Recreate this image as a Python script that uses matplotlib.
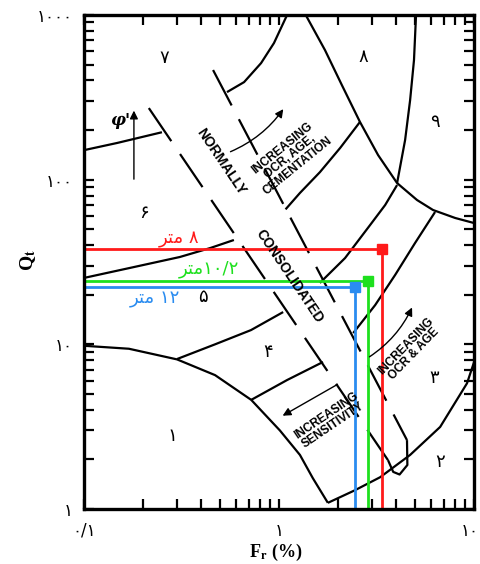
import numpy as np
import matplotlib
matplotlib.use("Agg")
import matplotlib.pyplot as plt
import matplotlib.transforms as mtransforms
from matplotlib.ticker import FixedLocator, NullFormatter

plt.rcParams['font.family'] = ['DejaVu Sans']
plt.rcParams['mathtext.fontset'] = 'stix'

# -----------------------------
# DATA (Fr %, Qt)
# -----------------------------
zone1_fr = [0.10, 0.17, 0.30, 0.47, 0.72, 1.01, 1.28, 1.49, 1.78]
zone1_qt = [9.8, 9.4, 8.1, 6.5, 4.6, 3.0, 2.13, 1.54, 1.09]

zone2_fr = [1.78, 2.45, 3.3, 4.7, 6.7, 9.2, 10.0]
zone2_qt = [1.09, 1.30, 1.56, 2.13, 3.15, 5.8, 7.8]

b34_nc_fr = [0.718, 1.10, 1.68]
b34_nc_qt = [4.59, 6.07, 7.81]

b45_nc_fr = [0.30, 0.47, 0.718, 1.05]
b45_nc_qt = [8.14, 10.0, 12.2, 15.7]

b56_nc_fr = [0.10, 0.172, 0.31, 0.443, 0.587]
b56_nc_qt = [25.3, 29.1, 33.9, 38.4, 43.0]

b67_nc_fr = [0.10, 0.148, 0.251]
b67_nc_qt = [151, 167, 194]

b67_oc_fr = [0.541, 0.662, 0.809, 0.942, 1.10]
b67_oc_qt = [340, 391, 510, 675, 1000]

b56_oc_fr = [1.08, 1.28, 1.62, 2.06, 2.60]
b56_oc_qt = [66, 83, 111, 156, 224]

big_fr = [1.37, 1.72, 2.10, 2.60, 3.22, 4.03, 5.10, 6.16, 8.0, 10.0]
big_qt = [1000, 612, 375, 224, 141, 95.3, 75.2, 65.4, 58.5, 54.5]

zone9_fr = [5.04, 4.92, 4.70, 4.43, 4.03]
zone9_qt = [1000, 532, 304, 174, 95.3]

b45_oc_fr = [1.62, 2.18, 2.93, 3.50, 4.03]
b45_oc_qt = [23.6, 33.4, 53.0, 70.1, 92.7]

b34_oc_fr = [2.40, 3.11, 3.94, 4.98, 6.31]
b34_oc_qt = [11.7, 17.3, 26.4, 41.2, 63.6]

# normally consolidated band (dashed edges) and closing loop
nc_left_fr = [0.215, 3.62]
nc_left_qt = [272, 1.98]
nc_right_fr = [0.459, 4.53]
nc_right_qt = [463, 2.62]
nc_loop_fr = [3.62, 3.85, 4.15, 4.55, 4.53]
nc_loop_qt = [1.98, 1.68, 1.62, 1.85, 2.62]

# measured points at three depths
depth_labels = ['\uFEAE\uFE98\uFEE3 \u06F8',
                '\uFEAE\uFE98\uFEE3\u06F1\u06F0/\u06F2',
                '\uFEAE\uFE98\uFEE3 \u06F1\u06F2']
depth_fr = [3.38, 2.86, 2.45]
depth_qt = [37.9, 24.2, 22.3]
depth_colors = ['#ff1a1a', '#1ee01e', '#2a8cf0']

zone_names = ['\u06F1', '\u06F2', '\u06F3', '\u06F4', '\u06F5',
              '\u06F6', '\u06F7', '\u06F8', '\u06F9']

x_ticks = [0.1, 1, 10]
x_ticklabels = ['\u06F0/\u06F1', '\u06F1', '\u06F1\u06F0']
y_ticks = [1, 10, 100, 1000]
y_ticklabels = ['\u06F1', '\u06F1\u06F0', '\u06F1\u06F0\u06F0', '\u06F1\u06F0\u06F0\u06F0']

# -----------------------------
# FIGURE
# -----------------------------
fig = plt.figure(figsize=(4.81, 5.64), dpi=100)
ax = fig.add_axes([0.1746, 0.0975, 0.811, 0.876])
ax.set_xscale('log')
ax.set_yscale('log')
ax.set_xlim(0.1, 10)
ax.set_ylim(1, 1000)

lw = 1.6
for fr, qt in [(zone1_fr, zone1_qt), (zone2_fr, zone2_qt),
               (b34_nc_fr, b34_nc_qt), (b45_nc_fr, b45_nc_qt),
               (b56_nc_fr, b56_nc_qt), (b67_nc_fr, b67_nc_qt),
               (b67_oc_fr, b67_oc_qt), (b56_oc_fr, b56_oc_qt),
               (big_fr, big_qt), (zone9_fr, zone9_qt),
               (b45_oc_fr, b45_oc_qt), (b34_oc_fr, b34_oc_qt),
               (nc_loop_fr, nc_loop_qt)]:
    ax.plot(fr, qt, color='black', lw=lw, solid_capstyle='butt')

ax.plot(nc_left_fr, nc_left_qt, color='black', lw=lw, linestyle=(0, (18, 7)))
ax.plot(nc_right_fr, nc_right_qt, color='black', lw=lw, linestyle=(0, (18, 7)))

# depth markers
for lab, fr, qt, c in zip(depth_labels, depth_fr, depth_qt, depth_colors):
    ax.plot([0.1, fr], [qt, qt], color=c, lw=2)
    ax.plot([fr, fr], [qt, 1], color=c, lw=2)
    ax.plot(fr, qt, 's', color=c, ms=6.5)

label_pos = [(0.244, 0.547), (0.321, 0.486), (0.182, 0.425)]
for lab, (px, py), c in zip(depth_labels, label_pos, depth_colors):
    ax.text(px, py, lab, color=c, fontsize=13, ha='center', va='center',
            transform=ax.transAxes)

zone_pos = [(0.226, 0.148), (0.913, 0.095), (0.897, 0.265), (0.472, 0.318),
            (0.305, 0.429), (0.154, 0.599), (0.205, 0.913), (0.715, 0.915),
            (0.900, 0.783)]
for name, (px, py) in zip(zone_names, zone_pos):
    ax.text(px, py, name, fontsize=13, ha='center', va='center',
            transform=ax.transAxes)

# annotations
tk = dict(ha='center', va='center', transform=ax.transAxes,
          family='Liberation Sans', fontweight='bold', linespacing=0.95)
ax.text(0.351, 0.704, 'NORMALLY', rotation=-56, fontsize=10, **tk)
ax.text(0.526, 0.472, 'CONSOLIDATED', rotation=-56, fontsize=10, **tk)
ax.text(0.528, 0.713, 'INCREASING\nOCR, AGE,\nCEMENTATION', rotation=39,
        fontsize=8.6, **tk)
ax.text(0.836, 0.322, 'INCREASING\nOCR & AGE', rotation=46, fontsize=8.6, **tk)
ax.text(0.631, 0.180, 'INCREASING\nSENSITIVITY', rotation=34, fontsize=8.6, **tk)

arr = dict(arrowstyle='-|>', color='black', lw=1.0, mutation_scale=12)
ax.annotate('', xy=(0.128, 0.812), xytext=(0.128, 0.662),
            xycoords='axes fraction', arrowprops=arr)
ax.annotate('', xy=(0.515, 0.814), xytext=(0.369, 0.721),
            xycoords='axes fraction',
            arrowprops=dict(arr, connectionstyle='arc3,rad=0.15'))
ax.annotate('', xy=(0.844, 0.413), xytext=(0.726, 0.305),
            xycoords='axes fraction',
            arrowprops=dict(arr, connectionstyle='arc3,rad=0.15'))
ax.annotate('', xy=(0.503, 0.186), xytext=(0.656, 0.255),
            xycoords='axes fraction', arrowprops=arr)
ax.text(0.092, 0.787, "\u03c6'", fontsize=12, fontstyle='italic',
        fontweight='bold', ha='center', va='center', transform=ax.transAxes,
        family='DejaVu Serif')

# axes styling
for s in ax.spines.values():
    s.set_linewidth(2.4)
ax.xaxis.set_major_locator(FixedLocator(x_ticks))
ax.yaxis.set_major_locator(FixedLocator(y_ticks))
ax.set_xticklabels(x_ticklabels, fontsize=12)
ax.set_yticklabels(y_ticklabels, fontsize=12)
ax.xaxis.set_minor_formatter(NullFormatter())
ax.yaxis.set_minor_formatter(NullFormatter())
ax.tick_params(which='both', direction='in', top=True, right=True,
               length=7, width=1.6)
ax.tick_params(axis='x', pad=9)
ax.tick_params(axis='y', pad=8)

# keep the last x tick label inside the canvas
last = ax.get_xticklabels()[-1]
last.set_horizontalalignment('right')
last.set_transform(last.get_transform() +
                   mtransforms.ScaledTranslation(0.05, 0, fig.dpi_scale_trans))

ax.set_xlabel('F$_\\mathbf{r}$ (%)', fontsize=13, fontweight='bold',
              family='Liberation Serif')
ax.set_ylabel('Q$_\\mathbf{t}$', fontsize=14, fontweight='bold',
              family='Liberation Serif')
ax.xaxis.set_label_coords(0.492, -0.066)
ax.yaxis.set_label_coords(-0.118, 0.504)

fig.savefig('out.png', dpi=100)
